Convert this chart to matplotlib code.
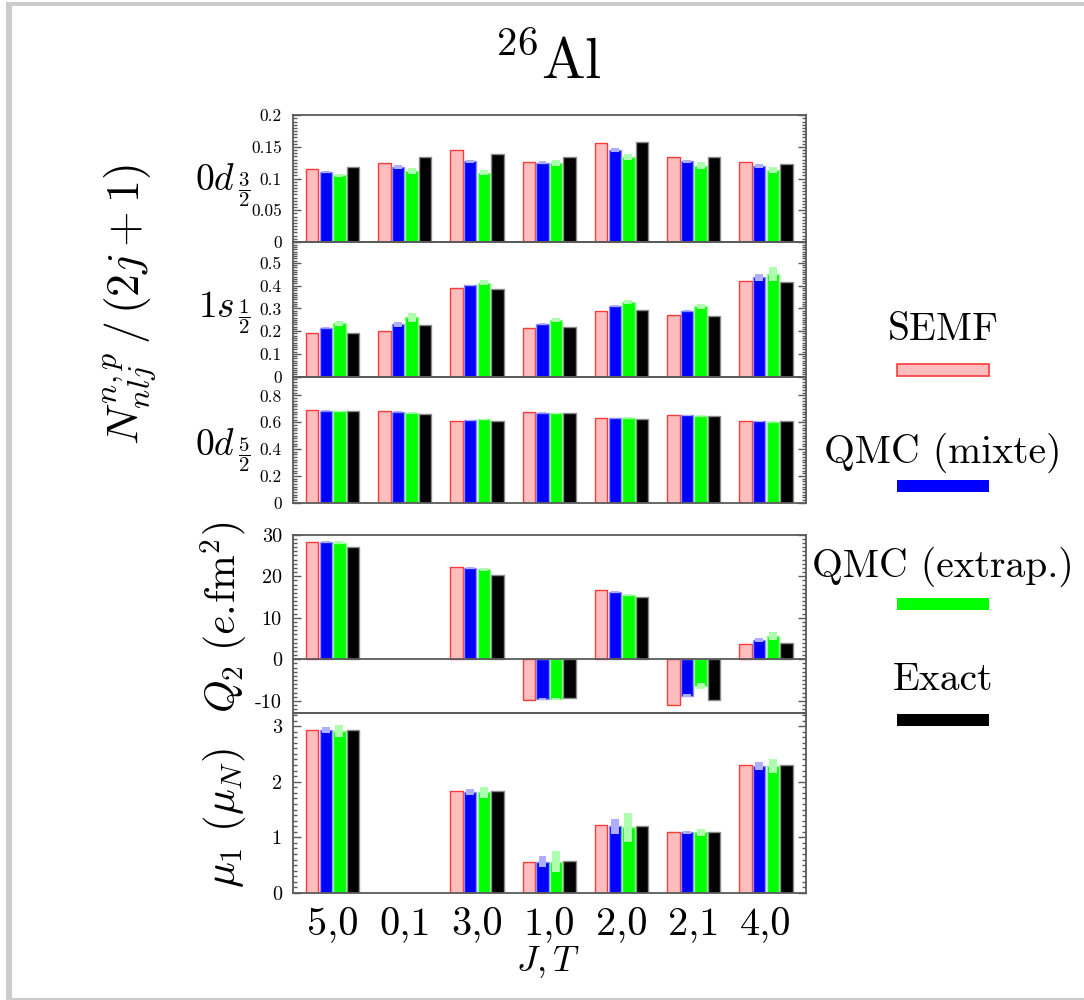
import numpy as np
import matplotlib
matplotlib.use("Agg")
import matplotlib.pyplot as plt
from matplotlib.patches import Rectangle
from matplotlib.ticker import FixedLocator, AutoMinorLocator, FuncFormatter

plt.rcParams['mathtext.fontset'] = 'cm'
plt.rcParams['font.family'] = ['cmr10', 'DejaVu Serif']
plt.rcParams['axes.unicode_minus'] = False
plt.rcParams['axes.formatter.use_mathtext'] = False

# ---------------- data ----------------
categories = ['5,0', '0,1', '3,0', '1,0', '2,0', '2,1', '4,0']
series = ['SEMF', 'QMC (mixte)', 'QMC (extrap.)', 'Exact']
nan = np.nan

# 0d 3/2
d32_semf  = [0.1147, 0.1242, 0.1447, 0.1258, 0.1558, 0.1337, 0.1258]
d32_mixte = [0.1105, 0.1179, 0.1274, 0.1253, 0.1453, 0.1274, 0.1200]
d32_extra = [0.1053, 0.1121, 0.1095, 0.1242, 0.1347, 0.1205, 0.1137]
d32_exact = [0.1179, 0.1337, 0.1395, 0.1337, 0.1584, 0.1342, 0.1232]
d32_mixte_err = [0.002, 0.003, 0.0025, 0.002, 0.003, 0.0025, 0.0025]
d32_extra_err = [0.0025, 0.005, 0.0045, 0.0045, 0.005, 0.005, 0.005]

# 1s 1/2
s12_semf  = [0.193, 0.203, 0.388, 0.215, 0.290, 0.271, 0.422]
s12_mixte = [0.215, 0.231, 0.401, 0.233, 0.310, 0.290, 0.437]
s12_extra = [0.234, 0.261, 0.413, 0.249, 0.329, 0.310, 0.452]
s12_exact = [0.193, 0.228, 0.384, 0.219, 0.292, 0.268, 0.416]
s12_mixte_err = [0.003, 0.011, 0.004, 0.005, 0.004, 0.003, 0.016]
s12_extra_err = [0.010, 0.020, 0.011, 0.010, 0.010, 0.011, 0.031]

# 0d 5/2
d52_semf  = [0.6925, 0.6825, 0.6075, 0.6775, 0.6325, 0.655, 0.6075]
d52_mixte = [0.6875, 0.6775, 0.615, 0.6725, 0.6325, 0.6525, 0.6075]
d52_extra = [0.6825, 0.6725, 0.6225, 0.6675, 0.6325, 0.650, 0.605]
d52_exact = [0.6875, 0.665, 0.610, 0.670, 0.6275, 0.650, 0.610]
d52_mixte_err = [0.003, 0.003, 0.003, 0.003, 0.003, 0.003, 0.003]
d52_extra_err = [0.004, 0.004, 0.004, 0.004, 0.004, 0.004, 0.004]

# Q2 (e.fm^2)
q2_semf  = [28.3, nan, 22.3, -9.76, 16.7, -10.96, 3.68]
q2_mixte = [28.2, nan, 22.0, -9.6, 16.2, -8.72, 4.64]
q2_extra = [28.1, nan, 21.7, -9.5, 15.5, -6.4, 5.6]
q2_exact = [27.1, nan, 20.4, -9.3, 15.1, -9.84, 4.0]
q2_mixte_err = [0.2, nan, 0.2, 0.2, 0.2, 0.4, 0.5]
q2_extra_err = [0.3, nan, 0.4, 0.3, 0.3, 0.8, 1.0]

# mu1 (mu_N)
mu_semf  = [2.934, nan, 1.831, 0.554, 1.217, 1.090, 2.295]
mu_mixte = [2.922, nan, 1.819, 0.566, 1.199, 1.090, 2.283]
mu_extra = [2.910, nan, 1.807, 0.566, 1.181, 1.090, 2.283]
mu_exact = [2.934, nan, 1.831, 0.572, 1.205, 1.102, 2.295]
mu_mixte_err = [0.054, nan, 0.05, 0.096, 0.13, 0.033, 0.07]
mu_extra_err = [0.105, nan, 0.10, 0.19, 0.26, 0.063, 0.13]

# ---------------- style ----------------
W, H = 1084, 1000
fill = ['#ffbdbd', '#0000ff', '#00ff00', '#000000']
edge = ['#ff3a3a', '#8c8cff', '#8cff8c', '#8a8a8a']
errc = [None, '#aeaeff', '#adffad', None]
spine_c = '#5a5a5a'

fig = plt.figure(figsize=(W / 100, H / 100), dpi=100)

def fx(px):
    return px / W

def fy(py):
    return 1 - py / H

left, right = 292.9, 805.7
panels = [
    (115.3, 242.0),
    (242.0, 376.7),
    (376.7, 502.7),
    (534.7, 713.3),
    (713.3, 893.0),
]

xpos = np.arange(len(categories))
bw = 0.172
step = 0.188


def draw_panel(idx, vals, errs, ylim, ticks, labfmt, labsize):
    top, bot = panels[idx]
    ax = fig.add_axes([fx(left), fy(bot), fx(right - left), (bot - top) / H])
    for k in range(4):
        xs = xpos + (k - 1.5) * step
        v = np.array(vals[k], dtype=float)
        ax.bar(xs, v, width=bw, color=fill[k], edgecolor=edge[k], linewidth=1.0, zorder=2)
        if errs[k] is not None:
            e = np.array(errs[k], dtype=float)
            ax.bar(xs, 2 * e, bottom=v - e, width=bw * 0.64, color=errc[k],
                   edgecolor='none', linewidth=0, zorder=3)
    ax.set_xlim(-0.55, 6.55)
    ax.set_ylim(*ylim)
    ax.yaxis.set_major_locator(FixedLocator(ticks))
    ax.yaxis.set_minor_locator(AutoMinorLocator(10))
    ax.yaxis.set_major_formatter(FuncFormatter(lambda v, p: labfmt(v)))
    ax.tick_params(axis='y', which='both', direction='in', left=True, right=True,
                   color=spine_c, width=1.0)
    ax.tick_params(axis='y', which='major', length=6, labelsize=labsize, pad=8)
    ax.tick_params(axis='y', which='minor', length=3)
    ax.tick_params(axis='x', which='both', bottom=False, top=False, labelbottom=False)
    for s in ax.spines.values():
        s.set_color(spine_c)
        s.set_linewidth(1.3)
    ax.patch.set_alpha(0)
    return ax


def fmt_small(v):
    s = ('%.2f' % v).rstrip('0').rstrip('.')
    return s if s != '-0' else '0'


def fmt_int(v):
    return '%d' % round(v)


ax1 = draw_panel(0, [d32_semf, d32_mixte, d32_extra, d32_exact],
                 [None, d32_mixte_err, d32_extra_err, None],
                 (0, 0.2), [0, 0.05, 0.1, 0.15, 0.2], fmt_small, 12.5)
ax2 = draw_panel(1, [s12_semf, s12_mixte, s12_extra, s12_exact],
                 [None, s12_mixte_err, s12_extra_err, None],
                 (0, 0.592), [0, 0.1, 0.2, 0.3, 0.4, 0.5], fmt_small, 12.5)
ax3 = draw_panel(2, [d52_semf, d52_mixte, d52_extra, d52_exact],
                 [None, d52_mixte_err, d52_extra_err, None],
                 (0, 0.94), [0, 0.2, 0.4, 0.6, 0.8], fmt_small, 12.5)
ax4 = draw_panel(3, [q2_semf, q2_mixte, q2_extra, q2_exact],
                 [None, q2_mixte_err, q2_extra_err, None],
                 (-13, 30), [-10, 0, 10, 20, 30], fmt_int, 14.5)
ax4.axhline(0, color=spine_c, lw=1.3, zorder=4)
ax5 = draw_panel(4, [mu_semf, mu_mixte, mu_extra, mu_exact],
                 [None, mu_mixte_err, mu_extra_err, None],
                 (0, 3.23), [0, 1, 2, 3], fmt_int, 14.5)

ax5.set_xticks(xpos)
ax5.set_xticklabels(categories)
ax5.tick_params(axis='x', which='both', bottom=False, labelbottom=True,
                labelsize=29, pad=7)

# ---------------- texts ----------------
fig.text(fx(548), fy(62), r'$^{26}\mathrm{Al}$', ha='center', va='center', fontsize=42)
fig.text(fx(548), fy(962), r'$J,T$', ha='center', va='center', fontsize=26)

orb_main = [r'$0d$', r'$1s$', r'$0d$']
orb_frac = [r'$\dfrac{3}{2}$', r'$\dfrac{1}{2}$', r'$\dfrac{5}{2}$']
orb_y = [180, 307, 445]
for lab, frac, yc in zip(orb_main, orb_frac, orb_y):
    fig.text(fx(235), fy(yc), lab, ha='right', va='center', fontsize=27)
    fig.text(fx(244), fy(yc + 10), frac, ha='center', va='center', fontsize=15)

fig.text(fx(130), fy(305), r'$N^{n,p}_{nlj}\,/\,(2j+1)$', ha='center', va='center',
         rotation=90, fontsize=33)
fig.text(fx(224), fy(617), r'$Q_2\ (e.\!\mathrm{fm}^2)$', ha='center', va='center',
         rotation=90, fontsize=30)
fig.text(fx(224), fy(818), r'$\mu_1\ (\mu_N)$', ha='center', va='center',
         rotation=90, fontsize=31)

# legend
leg_text_y = [330, 453, 567, 680]
leg_patch_y = [364, 480, 598, 714]
for k in range(4):
    fig.text(fx(943), fy(leg_text_y[k]), series[k],
             ha='center', va='center', fontsize=28.5)
    fig.patches.append(Rectangle((fx(897), fy(leg_patch_y[k] + 12)), fx(92), 12 / H,
                                 transform=fig.transFigure, facecolor=fill[k],
                                 edgecolor=edge[k] if k == 0 else 'none', linewidth=1.2))

# outer light-gray frame
frame_c = '#cccccc'
fig.patches.append(Rectangle((fx(6), 0), fx(6), 1 - 2 / H, transform=fig.transFigure,
                             facecolor=frame_c, edgecolor='none'))
fig.patches.append(Rectangle((fx(6), fy(6)), 1 - fx(6), 4 / H, transform=fig.transFigure,
                             facecolor=frame_c, edgecolor='none'))
fig.patches.append(Rectangle((fx(6), 0), 1 - fx(6), 2.5 / H, transform=fig.transFigure,
                             facecolor=frame_c, edgecolor='none'))

fig.savefig('out.png', dpi=100)
